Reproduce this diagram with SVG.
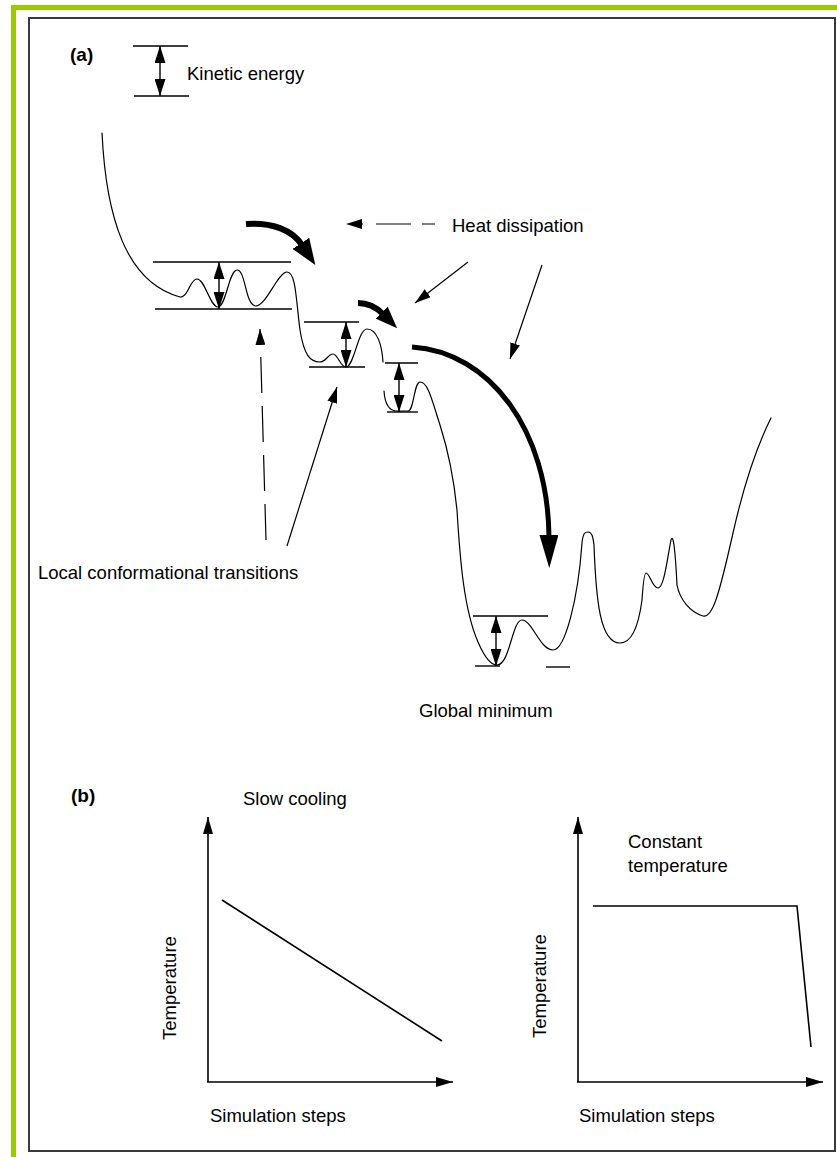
<svg xmlns="http://www.w3.org/2000/svg" width="837" height="1157" viewBox="0 0 837 1157">
<style>
text{font-family:"Liberation Sans",Arial,sans-serif;font-size:18.5px;fill:#000}
.b{font-weight:bold;font-size:19px}
.ln{stroke:#000;stroke-width:1.4;fill:none}
.cv{stroke:#000;stroke-width:1.2;fill:none;stroke-linejoin:round;stroke-linecap:round}
.thin{stroke:#000;stroke-width:1.2;fill:none}
.heavy{stroke:#000;fill:none;stroke-linecap:butt}
.ax{stroke:#000;stroke-width:1.6;fill:none}
</style>
<defs>
<marker id="dh" markerUnits="userSpaceOnUse" markerWidth="17" markerHeight="11" refX="17" refY="5.5" orient="auto-start-reverse"><path d="M0,0 L17,5.5 L0,11z" fill="#000"/></marker>
<marker id="ah" markerUnits="userSpaceOnUse" markerWidth="16" markerHeight="10" refX="16" refY="5" orient="auto"><path d="M0,0 L16,5 L0,10z" fill="#000"/></marker>
<marker id="axh" markerUnits="userSpaceOnUse" markerWidth="17" markerHeight="10" refX="17" refY="5" orient="auto"><path d="M0,0 L17,5 L0,10z" fill="#000"/></marker>
<marker id="h1" markerUnits="userSpaceOnUse" markerWidth="26" markerHeight="20" refX="2" refY="10" orient="auto"><path d="M0,0 L26,10 L0,20z" fill="#000"/></marker>
<marker id="h2" markerUnits="userSpaceOnUse" markerWidth="22" markerHeight="17" refX="2" refY="8.5" orient="auto"><path d="M0,0 L22,8.5 L0,17z" fill="#000"/></marker>
<marker id="h3" markerUnits="userSpaceOnUse" markerWidth="33" markerHeight="19" refX="2" refY="9.5" orient="auto"><path d="M0,0 L33,9.5 L0,19z" fill="#000"/></marker>
</defs>

<g id="frame">
<rect x="11" y="5" width="826" height="5" fill="#99cc00"/>
<rect x="11" y="5" width="5" height="1152" fill="#99cc00"/>
<rect x="29" y="18" width="806" height="1133" fill="none" stroke="#3a3a3a" stroke-width="2"/>
</g>

<g id="panel-a">
<text class="b" x="70" y="61">(a)</text>
<g id="kinetic-legend">
<line class="ln" x1="133" y1="46" x2="188" y2="46"/>
<line class="ln" x1="134" y1="96" x2="189" y2="96"/>
<line class="ln" x1="160" y1="46" x2="160" y2="96" marker-start="url(#dh)" marker-end="url(#dh)"/>
<text x="187" y="80">Kinetic energy</text>
</g>

<g id="energy-curve">
<path class="cv" d="M102,133 C106,215 125,282 180,297 C188,298 190,279 197,279 C205,279 210,307 218,307 C226,307 229,270 237,270 C246,270 245,306 256,306 C266,306 278,272 287,272 C296,272 296,300 300,330 C304,355 310,362 320,362 C326,362 328,354 333,354 C338,354 340,367 346,367 C354,367 358,329 367,329 C377,329 382,345 383,362"/>
<path class="cv" d="M384,391 C385,405 390,411 397,411 L408,411 C414,411 414,382 420,382 C428,382 432,400 440,425 C448,450 454,480 457,510 C460,560 464,610 478,642 C484,656 490,665 497,665 C510,665 512,620 522,620 C532,620 540,650 553,650 C565,650 578,600 582,543 C583,533 585,532 588,532 C592,532 593,537 594,545 C596,600 600,643 620,643 C630,643 638,630 642,600 C643,585 644,573 646,573 C650,573 652,588 658,588 C664,588 667,560 671,540 C673,534 675,545 677,585 C680,600 690,612 703,616 C712,618 718,600 733,533 C745,480 760,440 771,418"/>
</g>

<g id="levels">
<line class="ln" x1="153" y1="262" x2="291" y2="262"/>
<line class="ln" x1="155" y1="309" x2="292" y2="309"/>
<line class="ln" x1="219" y1="262" x2="219" y2="309" marker-start="url(#dh)" marker-end="url(#dh)"/>
<line class="ln" x1="304" y1="322" x2="359" y2="322"/>
<line class="ln" x1="309" y1="367" x2="365" y2="367"/>
<line class="ln" x1="346" y1="322" x2="346" y2="367" marker-start="url(#dh)" marker-end="url(#dh)"/>
<line class="ln" x1="385" y1="363" x2="418" y2="363"/>
<line class="ln" x1="387" y1="412" x2="418" y2="412"/>
<line class="ln" x1="399" y1="363" x2="399" y2="412" marker-start="url(#dh)" marker-end="url(#dh)"/>
<line class="ln" x1="473" y1="616" x2="548" y2="616"/>
<line class="ln" x1="475" y1="666" x2="500" y2="666"/>
<line class="ln" x1="546" y1="667" x2="570" y2="667"/>
<line class="ln" x1="496" y1="616" x2="496" y2="666" marker-start="url(#dh)" marker-end="url(#dh)"/>
</g>

<g id="connectors">
<path class="heavy" stroke-width="6" d="M246,224 C272,222 292,230 302,245" marker-end="url(#h1)"/>
<path class="heavy" stroke-width="6" d="M358,303 C368,303 375,306 383,314" marker-end="url(#h2)"/>
<path class="heavy" stroke-width="5" d="M412,347 C490,352 548,430 549,537" marker-end="url(#h3)"/>
<path class="thin" stroke-dasharray="13 11 35 13" d="M435,224 L346,224" marker-end="url(#ah)"/>
<path class="thin" d="M468,262 L415,303" marker-end="url(#ah)"/>
<path class="thin" d="M542,265 L510,359" marker-end="url(#ah)"/>
<path class="thin" stroke-dasharray="36 13" d="M266,540 L260,329" marker-end="url(#ah)"/>
<path class="thin" d="M287,546 L337,387" marker-end="url(#ah)"/>
</g>

<text x="452" y="232">Heat dissipation</text>
<text x="38" y="579">Local conformational transitions</text>
<text x="419" y="717">Global minimum</text>
</g>

<g id="panel-b">
<text class="b" x="71" y="802">(b)</text>
<g id="slow-cooling">
<text x="243" y="805">Slow cooling</text>
<line class="ax" x1="208" y1="1082" x2="208" y2="817" marker-end="url(#axh)"/>
<line class="ax" x1="207" y1="1082" x2="453" y2="1082" marker-end="url(#axh)"/>
<line class="ax" x1="222" y1="900" x2="442" y2="1041"/>
<text transform="translate(176,1040) rotate(-90)">Temperature</text>
<text x="210" y="1122">Simulation steps</text>
</g>
<g id="constant-temperature">
<text x="628" y="848">Constant</text>
<text x="628" y="872">temperature</text>
<line class="ax" x1="578" y1="1082" x2="578" y2="817" marker-end="url(#axh)"/>
<line class="ax" x1="577" y1="1082" x2="823" y2="1082" marker-end="url(#axh)"/>
<polyline class="ax" points="593,906 797,906 811,1047"/>
<text transform="translate(546,1038) rotate(-90)">Temperature</text>
<text x="579" y="1122">Simulation steps</text>
</g>
</g>
</svg>
